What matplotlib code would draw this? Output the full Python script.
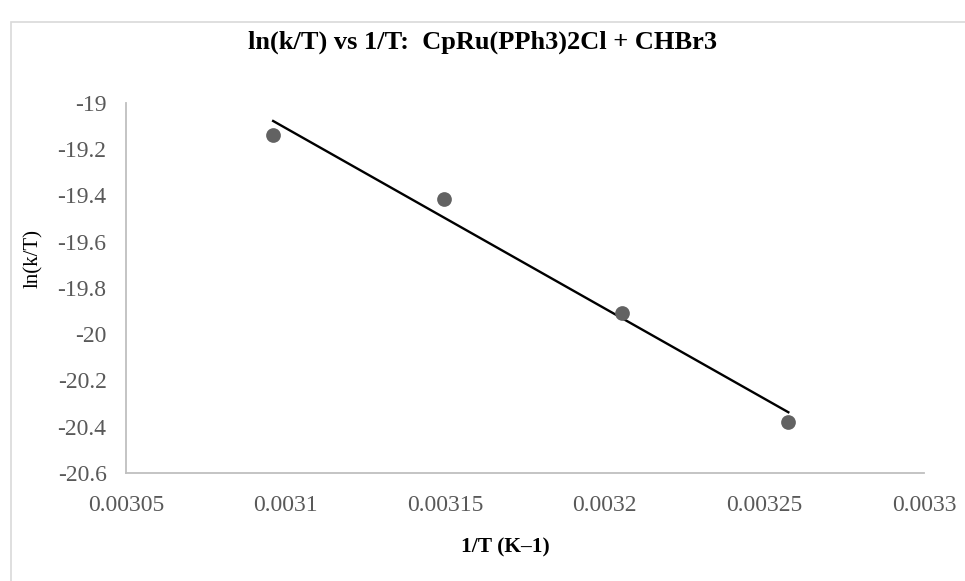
import numpy as np
import matplotlib
matplotlib.use('Agg')
import matplotlib.pyplot as plt
from matplotlib.patches import Rectangle

# data
inv_T = [0.0030961, 0.0031497, 0.0032053, 0.0032575]
ln_kT = [-19.138, -19.416, -19.909, -20.378]
xticks = [0.00305, 0.0031, 0.00315, 0.0032, 0.00325, 0.0033]
xtick_labels = ['0.00305', '0.0031', '0.00315', '0.0032', '0.00325', '0.0033']
yticks = [-19, -19.2, -19.4, -19.6, -19.8, -20, -20.2, -20.4, -20.6]
ytick_labels = ['-19', '-19.2', '-19.4', '-19.6', '-19.8', '-20', '-20.2', '-20.4', '-20.6']

plt.rcParams['font.family'] = ['Liberation Serif', 'DejaVu Serif']

fig = plt.figure(figsize=(9.65, 5.81), dpi=100)
ax = fig.add_axes([126/965, 1-473/581, (924-126)/965, (473-103)/581])

# outer chart border (cropped at right and bottom)
top = 1 - 22/581
fig.patches.append(Rectangle((11/965, -0.2), 1.2, top + 0.2,
                             transform=fig.transFigure, fill=False,
                             edgecolor='#d9d9d9', linewidth=1.2))

# linear trendline
m, b = np.polyfit(inv_T, ln_kT, 1)
xs = np.array([min(inv_T), max(inv_T)])
ax.plot(xs, m*xs + b, color='black', linewidth=1.7, zorder=2)
ax.plot(inv_T, ln_kT, 'o', color='#626262', markersize=10.6, markeredgewidth=0, zorder=3)

ax.set_xlim(0.00305, 0.0033)
ax.set_ylim(-20.6, -19)
ax.set_xticks(xticks)
ax.set_xticklabels(xtick_labels)
ax.set_yticks(yticks)
ax.set_yticklabels(ytick_labels)
ax.tick_params(length=0, labelsize=17, colors='#595959')
ax.tick_params(axis='x', pad=16)
ax.tick_params(axis='y', pad=14)

for s in ['top', 'right']:
    ax.spines[s].set_visible(False)
for s in ['left', 'bottom']:
    ax.spines[s].set_color('#bfbfbf')
    ax.spines[s].set_linewidth(1.3)

ax.set_xlabel('1/T (K\u20131)', fontsize=15.5, fontweight='bold', va='center')
ax.xaxis.set_label_coords((505-126)/798, (473-547)/370)
ax.set_ylabel('ln(k/T)', fontsize=15, va='center')
ax.yaxis.set_label_coords((33-126)/798, (473-258)/370)
fig.text(482/965, 1-42/581, 'ln(k/T) vs 1/T:  CpRu(PPh3)2Cl + CHBr3',
         ha='center', va='center', fontsize=19, fontweight='bold')

plt.savefig('out.png', dpi=100)
